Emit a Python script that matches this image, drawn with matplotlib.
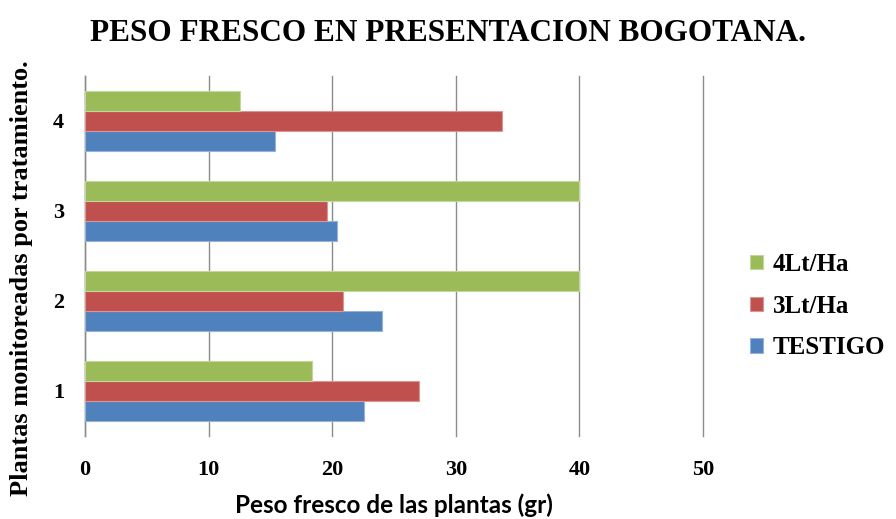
import matplotlib
matplotlib.use("Agg")
import matplotlib.pyplot as plt
import numpy as np

categories = ["1", "2", "3", "4"]
testigo = [22.6, 24.0, 20.4, 15.4]
lt3 = [27.0, 20.9, 19.6, 33.7]
lt4 = [18.4, 40.0, 40.0, 12.5]
xticks = [0, 10, 20, 30, 40, 50]

fig = plt.figure(figsize=(8.96, 5.19), dpi=100)
ax = fig.add_axes([0.0949, 0.160, 0.6897, 0.6936])

y = np.arange(1, len(categories) + 1)
h = 0.222
serif = ["Liberation Serif", "DejaVu Serif"]

ax.barh(y - h, testigo, height=h, color="#4F81BD", edgecolor="#95B3D7", linewidth=0.8, label="TESTIGO", zorder=3)
ax.barh(y, lt3, height=h, color="#C0504D", edgecolor="#DA9694", linewidth=0.8, label="3Lt/Ha", zorder=3)
ax.barh(y + h, lt4, height=h, color="#9BBB59", edgecolor="#C4D79B", linewidth=0.8, label="4Lt/Ha", zorder=3)

ax.set_xlim(0, 50)
ax.set_ylim(0.5, 4.5)
ax.set_xticks(xticks)
ax.set_xticklabels([str(v) for v in xticks], fontfamily=serif, fontweight="bold", fontsize=16)
ax.set_yticks(y)
ax.set_yticklabels(categories, fontfamily=serif, fontweight="bold", fontsize=16)
ax.tick_params(axis="y", length=0, pad=15)
ax.tick_params(axis="x", length=0, pad=17)

ax.grid(axis="x", color="#8C8C8C", linewidth=1.0, zorder=0)
for gl in ax.get_xgridlines():
    gl.set_clip_on(False)
ax.grid(axis="y", visible=False)
for s in ["top", "right", "bottom"]:
    ax.spines[s].set_visible(False)
ax.spines["left"].set_color("#8C8C8C")
ax.spines["left"].set_linewidth(1.0)

ax.set_xlabel("Peso fresco de las plantas (gr)", fontfamily=["Lato", "DejaVu Sans"], fontweight="bold", fontsize=17.5, labelpad=10)
fig.text(22 / 896, 1 - 278 / 519, "Plantas monitoreadas por tratamiento.", rotation=90,
         ha="center", va="center", fontfamily=serif, fontweight="bold", fontsize=19)

fig.suptitle("PESO FRESCO EN PRESENTACION BOGOTANA.", fontfamily=serif, fontweight="bold", fontsize=22.5, x=0.5, y=0.963)

handles, labels = ax.get_legend_handles_labels()
leg = fig.legend(handles[::-1], labels[::-1], loc="center left", bbox_to_anchor=(0.812, 0.41),
                 frameon=False, prop={"family": serif, "weight": "bold", "size": 18},
                 handlelength=0.5, handleheight=0.5, handletextpad=0.4, labelspacing=0.75)

fig.savefig("out.png", dpi=100)
